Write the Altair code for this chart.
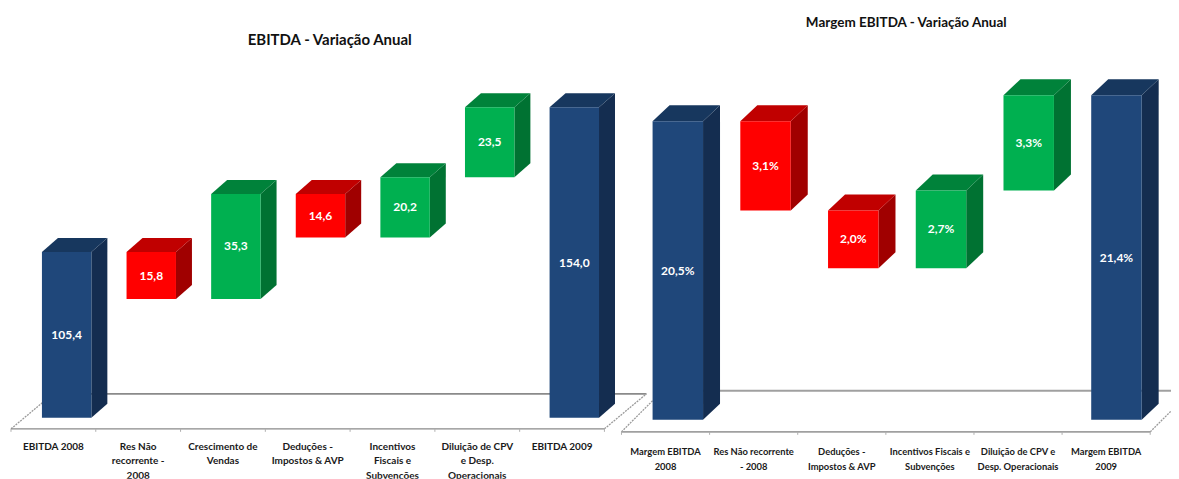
import altair as alt
import pandas as pd

# ---------- values ----------
left_labels = ["EBITDA 2008", "Res Não\nrecorrente -\n2008", "Crescimento de\nVendas",
               "Deduções -\nImpostos & AVP", "Incentivos\nFiscais e\nSubvenções",
               "Diluição de CPV\ne Desp.\nOperacionais", "EBITDA 2009"]
left_low = [49.7, 89.6, 89.6, 110.3, 110.3, 130.5, 49.7]
left_high = [105.4, 105.4, 124.9, 124.9, 130.5, 154.0, 154.0]
left_text = ["105,4", "15,8", "35,3", "14,6", "20,2", "23,5", "154,0"]

right_labels = ["Margem EBITDA\n2008", "Res Não recorrente\n- 2008", "Deduções -\nImpostos & AVP",
                "Incentivos Fiscais e\nSubvenções", "Diluição de CPV e\nDesp. Operacionais",
                "Margem EBITDA\n2009"]
right_low = [10.14, 17.4, 15.4, 15.4, 18.1, 10.14]
right_high = [20.5, 20.5, 17.4, 18.1, 21.4, 21.4]
right_text = ["20,5%", "3,1%", "2,0%", "2,7%", "3,3%", "21,4%"]

left_kind = ["total", "down", "up", "down", "up", "up", "total"]
right_kind = ["total", "down", "down", "up", "up", "total"]

FRONT = {"total": "#1F477A", "down": "#FF0000", "up": "#00B050"}
TOP = {"total": "#17375E", "down": "#C00000", "up": "#00823A"}
SIDE = {"total": "#142D50", "down": "#A00000", "up": "#007232"}
FONT = "Lato"


def panel(labels, low, high, text, kind, title, title_x, title_y, title_size,
          width, origin_px, slot_px, px_per_unit, floor_value, floor_page,
          bar_start, bar_step, bar_w, dx_px, dy_px, front_page, back_page, back_x_px,
          line_color, label_page, label_size, line_height, front_width, back_width, clip_floor):
    height = 471
    n = len(labels)
    x_dom = [-origin_px / slot_px, (width - origin_px) / slot_px]
    y_dom = [floor_value - (479 - floor_page) / px_per_unit,
             floor_value + (floor_page - 8) / px_per_unit]
    xs = alt.Scale(domain=x_dom, nice=False, zero=False)
    ys = alt.Scale(domain=y_dom, nice=False, zero=False)
    X = lambda f: alt.X(f, type="quantitative", scale=xs, axis=None)
    Y = lambda f: alt.Y(f, type="quantitative", scale=ys, axis=None)

    dxu = dx_px / slot_px
    dyu = dy_px / px_per_unit
    to_v = lambda page: floor_value + (floor_page - page) / px_per_unit

    faces, fronts = [], []
    for i in range(n):
        xl = i * bar_step + bar_start
        xr = xl + bar_w
        lo, hi = low[i], high[i]
        fronts.append({"x": xl, "x2": xr, "y": lo, "y2": hi, "color": FRONT[kind[i]],
                       "cx": (xl + xr) / 2, "cy": (lo + hi) / 2, "t": text[i]})
        for xx, a, b in [(xr, lo, hi), (xr + dxu, lo + dyu, hi + dyu)]:
            faces.append({"id": f"s{i}", "x": xx, "y": a, "y2": b, "color": SIDE[kind[i]]})
        for xx, a, b in [(xl, hi, hi), (xl + dxu, hi, hi + dyu), (xr, hi, hi + dyu),
                         (xr + dxu, hi + dyu, hi + dyu)]:
            faces.append({"id": f"t{i}", "x": xx, "y": a, "y2": b, "color": TOP[kind[i]]})
    faces = pd.DataFrame(faces)
    fronts = pd.DataFrame(fronts)

    fv, bv = to_v(front_page), to_v(back_page)
    # floor: front edge, ticks, back edge and the two receding edges
    front_line = pd.DataFrame({"x": [0], "x2": [n], "y": [fv]})
    ticks = pd.DataFrame({"x": list(range(n + 1)), "y": [fv] * (n + 1),
                          "y2": [fv - 3 / px_per_unit] * (n + 1)})
    back_line = pd.DataFrame({"x": [back_x_px / slot_px], "x2": [n + back_x_px / slot_px], "y": [bv]})
    diag = pd.DataFrame({"id": ["a", "a", "b", "b"],
                         "x": [0, back_x_px / slot_px, n, n + back_x_px / slot_px],
                         "y": [fv, bv, fv, bv]})
    cats = pd.DataFrame({"x": [i + 0.5 for i in range(n)], "t": labels})

    layers = [
        alt.Chart(back_line).mark_rule(color=line_color, strokeWidth=back_width, clip=clip_floor).encode(
            x=X("x"), x2="x2", y=Y("y")),
        alt.Chart(diag).mark_line(color="#9a9a9a", strokeWidth=1.3, strokeDash=[2, 1], clip=clip_floor).encode(
            x=X("x"), y=Y("y"), detail="id:N"),
        alt.Chart(front_line).mark_rule(color=line_color, strokeWidth=front_width).encode(
            x=X("x"), x2="x2", y=Y("y")),
        alt.Chart(ticks).mark_rule(color="#b0b0b0", strokeWidth=1).encode(
            x=X("x"), y=Y("y"), y2="y2"),
        alt.Chart(faces).mark_area(opacity=1).encode(
            x=X("x"), y=Y("y"), y2="y2", detail="id:N",
            color=alt.Color("color:N", scale=None)),
        alt.Chart(fronts).mark_rect().encode(
            x=X("x"), x2="x2", y=Y("y"), y2="y2",
            color=alt.Color("color:N", scale=None)),
        alt.Chart(fronts).mark_text(font=FONT, fontWeight="bold", fontSize=12, color="white").encode(
            x=X("cx"), y=Y("cy"), text="t:N"),
        alt.Chart(cats).mark_text(font=FONT, fontWeight="bold", fontSize=label_size, color="#1a1a1a",
                                  lineBreak="\n", lineHeight=line_height, baseline="top", clip=True).encode(
            x=X("x"), y=alt.value(label_page - 8), text="t:N"),
        alt.Chart(pd.DataFrame({"t": [title]})).mark_text(
            font=FONT, fontWeight="bold", fontSize=title_size, color="#111111").encode(
            x=alt.value(title_x), y=alt.value(title_y - 8), text="t:N"),
    ]
    return alt.layer(*layers).properties(width=width, height=height)


left = panel(left_labels, left_low, left_high, left_text, left_kind,
             "EBITDA - Variação Anual", 329 - 8, 40, 15,
             612, 2, 84.85, 2.98, 49.7, 418, 0.365, 0.998, 0.583, 16, 14,
             429, 394, 42, "#8a8a8a", 442, 10, 14.6, 1.2, 1.8, False)
right = panel(right_labels, right_low, right_high, right_text, right_kind,
              "Margem EBITDA - Variação Anual", 906 - 620, 23, 13.5,
              551, 1, 88.2, 28.85, 10.14, 420, 0.353, 0.9955, 0.5726, 17, 16,
              432, 391, 41, "#a0a0a0", 448, 9.4, 15.7, 1.8, 2, True)

chart = alt.hconcat(left, right, spacing=0, bounds="flush").properties(padding=0).configure_view(stroke=None)
chart.save("out.html", embed_options={"renderer": "svg", "actions": False})
